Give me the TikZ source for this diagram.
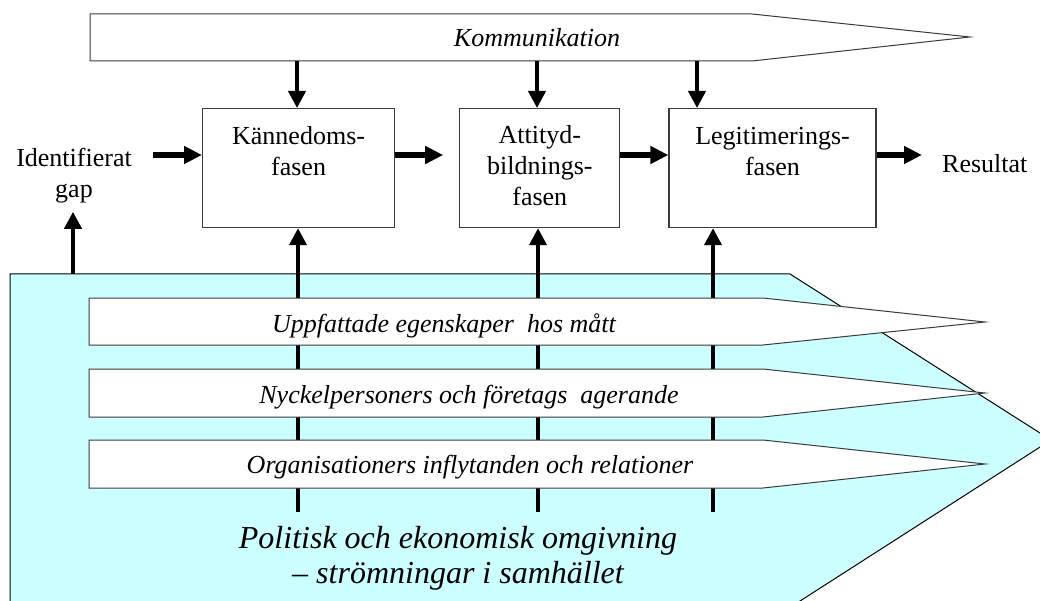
\documentclass[tikz,border=0pt]{standalone}
\usepackage{fontspec}
\setmainfont{Liberation Serif}
\usepackage{tikz}
\usetikzlibrary{arrows.meta,positioning}
\definecolor{cEnv}{HTML}{CCFFFF}
\definecolor{cLine}{HTML}{3A3A3A}
\tikzset{
  x=1pt, y=-1pt,
  phase/.style ={rectangle, draw=cLine, fill=white, line width=1.2pt, align=center,
                 font=\fontsize{26}{31}\selectfont, inner sep=0pt,
                 text height=67pt, text depth=52pt},
  band/.style  ={draw=cLine, fill=white, line width=1pt},
  env/.style   ={draw=black, fill=cEnv, line width=1pt},
  txt/.style   ={font=\fontsize{26}{31}\selectfont, align=center, inner sep=0pt},
  lbl/.style   ={font=\fontsize{26}{31}\selectfont\itshape, inner sep=0pt},
  big/.style   ={font=\fontsize{32}{35}\selectfont\itshape, align=center, inner sep=0pt},
  flw/.style   ={-{Triangle[length=18pt,width=17pt]}, line width=6.5pt},
  infl/.style  ={-{Triangle[length=17pt,width=17pt]}, line width=4pt},
}

\begin{document}
\begin{tikzpicture}
  \clip (0,0) rectangle (1040,601);
  % omgivning
  \draw[env] (10,610)--(10,274)--(790,274)--(1051,440)--(786,610)--cycle;
  % faser
  \node[phase, anchor=north west, minimum width=192pt] (kf) at (202,108) {Kännedoms-\\fasen};
  \node[phase, right=64pt of kf, minimum width=160pt, text height=97pt, text depth=22pt] (af) {Attityd-\\bildnings-\\fasen};
  \node[phase, right=48pt of af, minimum width=207pt] (lf) {Legitimerings-\\fasen};
  \node[txt, anchor=base] (gap) at (74,198) {Identifierat\\gap};
  \node[txt, anchor=base west] (res) at (942,173) {Resultat};
  \coordinate (row) at (0,155);
  \coordinate (gin) at (153,155);
  \coordinate (g0) at (73,274);
  \coordinate (s1) at (298,512);
  \coordinate (s2) at (538,512);
  \coordinate (s3) at (713,512);
  \coordinate (k1) at (297,61);
  \coordinate (k2) at (537,61);
  \coordinate (k3) at (697,61);
  % paverkan underifran
  \draw[infl] (s1) -- (s1 |- kf.south);
  \draw[infl] (s2) -- (s2 |- af.south);
  \draw[infl] (s3) -- (s3 |- lf.south);
  \draw[infl, shorten >=8pt] (g0) -- (g0 |- gap.south);
  % band
  \draw[band] (90,14)--(752,14)--(970,37)--(752,61)--(90,61)--cycle;
  \draw[band] (89,298)--(763,298)--(985,322)--(763,345)--(89,345)--cycle;
  \draw[band] (89,369)--(763,369)--(985,393)--(763,417)--(89,417)--cycle;
  \draw[band] (89,440)--(763,440)--(985,464)--(763,488)--(89,488)--cycle;
  \node[lbl, anchor=base] (komm) at (537,47) {Kommunikation};
  \node[lbl, anchor=base] (upp) at (444,332) {Uppfattade egenskaper~ hos mått};
  \node[lbl, anchor=base] (nyck) at (469,403) {Nyckelpersoners och företags~ agerande};
  \node[lbl, anchor=base] (org) at (470,473) {Organisationers inflytanden och relationer};
  \node[big, anchor=base] (pol) at (458,583) {Politisk och ekonomisk omgivning\\– strömningar i samhället};
  % flode
  \draw[infl] (k1) -- (k1 |- kf.north);
  \draw[infl] (k2) -- (k2 |- af.north);
  \draw[infl] (k3) -- (k3 |- lf.north);
  \draw[flw] (gin) -- (kf.west |- row);
  \draw[flw, shorten >=16pt] (kf.east |- row) -- (af.west |- row);
  \draw[flw] (af.east |- row) -- (lf.west |- row);
  \draw[flw, shorten >=20pt] (lf.east |- row) -- (res.west |- row);
\end{tikzpicture}
\end{document}
